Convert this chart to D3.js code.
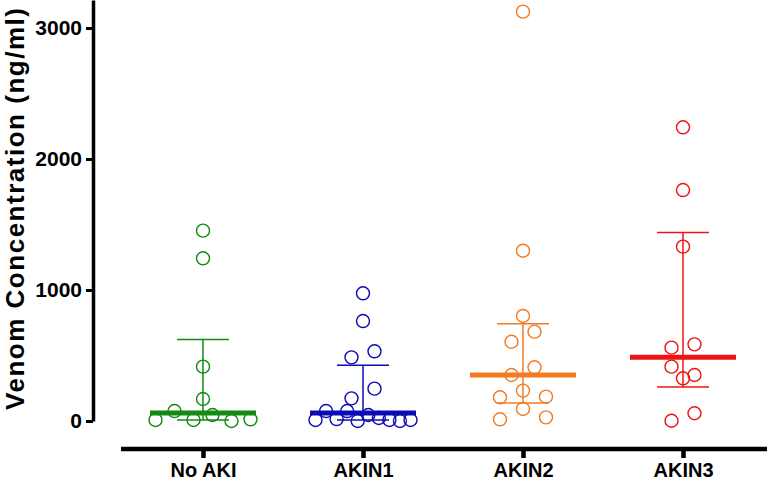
<!DOCTYPE html>
<html>
<head>
<meta charset="utf-8">
<script src="https://cdn.jsdelivr.net/npm/d3@7"></script>
<style>
  body { margin: 0; background: #fff; }
  text { font-family: Arial, "Liberation Sans", sans-serif; font-weight: bold; }
</style>
</head>
<body>
<svg width="767" height="481"></svg>
<script>
// groups and their colours
const groups = ["No AKI", "AKIN1", "AKIN2", "AKIN3"];
const colors = ["#138a13", "#0c0cb4", "#f47a22", "#ee1414"];

// venom concentration (ng/ml) per patient
const noAki = [1453, 1242, 415, 168, 8, 76, 8, 46, 0, 13];
const akin1 = [975, 763, 486, 532, 173, 247, 8, 76, 15, 76, 0, 46, 23, 8, 0, 8];
const akin2 = [3125, 1300, 802, 605, 682, 351, 410, 181, 232, 186, 13, 92, 28];
const akin3 = [2242, 1763, 1331, 560, 585, 415, 351, 326, 2, 59];

const yTicks = [0, 1000, 2000, 3000];
const yTitle = "Venom  Concentration  (ng/ml)";

const series = [noAki, akin1, akin2, akin3];

const svg = d3.select("svg");

const y = d3.scaleLinear().domain([0, 3214]).range([421, 0]);
const x = d3.scalePoint().domain(groups).range([203, 683]);

// quartile the way Prism does it ((n+1)p)
function quart(vals, p) {
  const s = vals.slice().sort((a, b) => a - b);
  const h = (s.length + 1) * p;
  const lo = Math.floor(h);
  if (lo < 1) return s[0];
  if (lo >= s.length) return s[s.length - 1];
  return s[lo - 1] + (h - lo) * (s[lo] - s[lo - 1]);
}

// spread points that sit at about the same height side by side
function scatterOffsets(vals) {
  const idx = vals.map((v, i) => i).sort((a, b) => y(vals[a]) - y(vals[b]));
  const off = new Array(vals.length).fill(0);
  let bin = [];
  let startY = null;
  const flush = () => {
    bin.sort((a, b) => a - b);
    const n = bin.length;
    const sp = n > 1 ? Math.min(23, 95 / (n - 1)) : 0;
    bin.forEach((k, i) => off[k] = (i - (n - 1) / 2) * sp);
    bin = [];
  };
  idx.forEach(k => {
    const py = y(vals[k]);
    if (startY === null || py - startY > 11) {
      if (bin.length) flush();
      startY = py;
    }
    bin.push(k);
  });
  if (bin.length) flush();
  return off;
}

const data = groups.map((g, i) => ({
  group: g,
  color: colors[i],
  values: series[i],
  med: d3.median(series[i]),
  q1: quart(series[i], 0.25),
  q3: quart(series[i], 0.75),
  off: scatterOffsets(series[i])
}));

const cols = svg.selectAll(".col")
  .data(data)
  .enter().append("g")
  .attr("class", "col")
  .attr("transform", d => `translate(${x(d.group)},0)`);

// interquartile bars
cols.append("line")
  .attr("x1", 0).attr("x2", 0)
  .attr("y1", d => y(d.q1)).attr("y2", d => y(d.q3))
  .attr("stroke", d => d.color).attr("stroke-width", 1.5);
cols.selectAll(".cap")
  .data(d => [d.q1, d.q3].map(v => ({ v, color: d.color })))
  .enter().append("line")
  .attr("class", "cap")
  .attr("x1", -26).attr("x2", 26)
  .attr("y1", d => y(d.v)).attr("y2", d => y(d.v))
  .attr("stroke", d => d.color).attr("stroke-width", 1.5);

// median
cols.append("line")
  .attr("x1", -53).attr("x2", 53)
  .attr("y1", d => y(d.med)).attr("y2", d => y(d.med))
  .attr("stroke", d => d.color).attr("stroke-width", 5);

// points
cols.selectAll("circle")
  .data(d => d.values.map((v, i) => ({ v, dx: d.off[i], color: d.color })))
  .enter().append("circle")
  .attr("cx", d => d.dx)
  .attr("cy", d => y(d.v))
  .attr("r", 6.5)
  .attr("fill", "none")
  .attr("stroke", d => d.color)
  .attr("stroke-width", 1.4);

// y axis
const yAxis = svg.append("g")
  .attr("transform", "translate(93,0)")
  .call(d3.axisLeft(y).tickValues(yTicks).tickFormat(d3.format("d"))
    .tickSize(7).tickSizeOuter(0).tickPadding(4));
yAxis.select(".domain").attr("stroke-width", 3.5);
yAxis.selectAll(".tick line").attr("stroke-width", 3);
yAxis.selectAll(".tick text").attr("font-size", 21).attr("fill", "#000");

svg.append("text")
  .attr("transform", "translate(24,209) rotate(-90)")
  .attr("text-anchor", "middle")
  .attr("font-size", 26)
  .attr("textLength", 402)
  .attr("lengthAdjust", "spacing")
  .text(yTitle);

// x axis
const xAxis = svg.append("g")
  .attr("transform", "translate(0,449)")
  .call(d3.axisBottom(x).tickSize(9).tickPadding(5));
xAxis.select(".domain").remove();
xAxis.append("line")
  .attr("x1", 121).attr("x2", 767)
  .attr("stroke", "#000").attr("stroke-width", 4.5);
xAxis.selectAll(".tick line").attr("stroke-width", 4.5);
xAxis.selectAll(".tick text").attr("font-size", 20).attr("fill", "#000");
</script>
</body>
</html>
